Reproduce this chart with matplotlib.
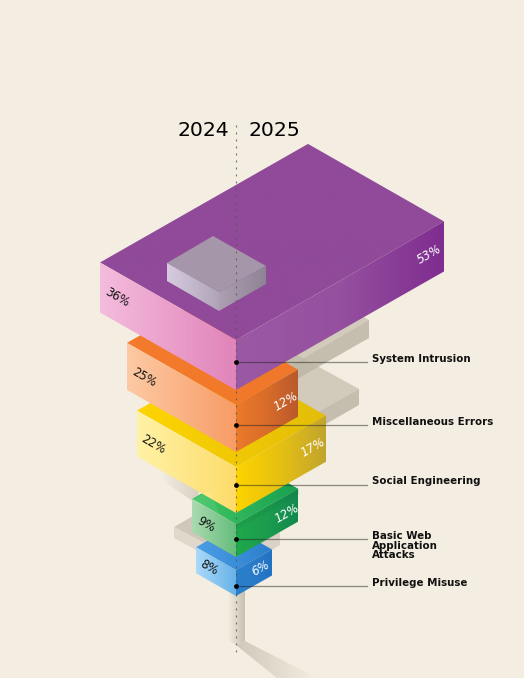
import numpy as np
import matplotlib
matplotlib.use('Agg')
import matplotlib.pyplot as plt
from matplotlib.colors import to_rgb
from matplotlib.patches import Polygon

# data
categories = ['System Intrusion', 'Miscellaneous Errors', 'Social Engineering',
              'Basic Web\nApplication\nAttacks', 'Privilege Misuse']
share_2024 = [36, 25, 22, 9, 8]
share_2025 = [53, 12, 17, 12, 6]
years = ['2024', '2025']

# value -> pixels along the iso axis (the original scale is not linear)
scale_val = [6, 8, 9, 12, 17, 22, 25, 36, 53]
scale_px = [36, 40, 44, 62, 90, 99, 109, 136, 208]

# where each block sits
axis_x = 236
slope = 0.57
front_y = [340, 405, 467, 524, 570]
block_h = [50, 47, 46, 33, 26]
leader_y = [362, 425, 485, 539, 586]
label_y = [359, 422, 481, 531, 583]

# top (left, right), left face (light, dark), right face (light, mid, dark)
colors = [
    ('#904a99', '#904a99', '#f4bcdd', '#e184ba', '#9b59a4', '#95509f', '#7f2d90'),
    ('#f47b2a', '#f0782a', '#fdcaa4', '#f89c66', '#ec7a2a', '#d96c2a', '#b9592c'),
    ('#fed500', '#e3bd08', '#fff2a6', '#fddc6c', '#fdd300', '#e6c012', '#c1a42e'),
    ('#42c765', '#17a04f', '#aadab0', '#66bd7c', '#1fa94c', '#1c9c4e', '#14894f'),
    ('#4c9fe6', '#2b7ecb', '#abdafa', '#67b2e8', '#2a80cb', '#2a7cc9', '#2272c3'),
]
left_pos = [(117, 297), (144, 377), (153, 445), (206, 525), (209, 568)]
right_pos = [(429, 254), (286, 401), (313, 447), (287, 513), (261, 568)]
bg = '#f4ede1'

fig = plt.figure(figsize=(5.24, 6.78), dpi=100, facecolor=bg)
ax = fig.add_axes([0, 0, 1, 1])
ax.set_xlim(0, 524)
ax.set_ylim(678, 0)
ax.axis('off')


def flat(pts, color, z, alpha=1.0):
    ax.add_patch(Polygon(pts, closed=True, fc=color, ec='none', alpha=alpha, zorder=z))


def shade(pts, stops, z):
    # horizontal gradient clipped to a polygon
    pts = np.array(pts, dtype=float)
    t = np.linspace(0, 1, 128)
    knots = np.linspace(0, 1, len(stops))
    rgba = np.ones((1, 128, 4))
    for i in range(3):
        rgba[0, :, i] = np.interp(t, knots, [to_rgb(c)[i] for c in stops])
    x0, x1 = pts[:, 0].min(), pts[:, 0].max()
    y0, y1 = pts[:, 1].min(), pts[:, 1].max()
    im = ax.imshow(rgba, extent=(x0, x1, y1, y0), aspect='auto', zorder=z, interpolation='bilinear')
    im.set_clip_path(Polygon(pts, closed=True, transform=ax.transData))


def block(x, top, wl, wr, h, cols, z):
    top_face = [(x, top), (x - wl, top - slope * wl),
                (x - wl + wr, top - slope * (wl + wr)), (x + wr, top - slope * wr)]
    left_face = [(x, top), (x - wl, top - slope * wl), (x - wl, top - slope * wl + h), (x, top + h)]
    right_face = [(x, top), (x + wr, top - slope * wr), (x + wr, top - slope * wr + h), (x, top + h)]
    shade(top_face, [cols[0], cols[1]], z)
    shade(left_face, [cols[2], cols[3]], z)
    shade(right_face, [cols[4], cols[5], cols[6]], z)


# grey ghost blocks behind the stack
ghost = '#bdb6a6'
flat([(369, 320), (358, 314), (250, 375), (262, 382)], ghost, 1, 0.62)
flat([(369, 320), (369, 338), (262, 399), (262, 382)], ghost, 1, 0.85)
flat([(270, 340), (359, 389), (298, 423), (210, 375)], ghost, 1, 0.62)
flat([(359, 389), (359, 405), (298, 440), (298, 423)], ghost, 1, 0.85)
shade([(160, 462), (200, 485), (197, 504), (166, 483), (160, 477)], [bg, '#d6cfc2'], 1)
flat([(174, 527), (200, 512), (280, 533), (236, 560)], '#cfc8ba', 1)
flat([(174, 527), (174, 538), (236, 572), (236, 560)], '#e0d9cb', 1)
flat([(236, 560), (236, 572), (280, 545), (280, 533)], '#dad3c5', 1)
shade([(228, 590), (245, 590), (245, 641), (236, 645), (228, 640)], [bg, '#c6c0b1'], 1)
shade([(236, 645), (245, 641), (317, 678), (277, 678)], ['#cfc9bb', bg], 1)

# blocks, bottom one first so the upper ones overlap it
wl = np.interp(share_2024, scale_val, scale_px)
wr = np.interp(share_2025, scale_val, scale_px)
for i in range(4, -1, -1):
    block(axis_x, front_y[i], wl[i], wr[i], block_h[i], colors[i], 10 - i)

# small grey block on the purple top
flat([(167, 263), (213, 236), (266, 266), (219, 292)], '#a597a9', 11)
shade([(167, 263), (219, 292), (219, 311), (167, 281)], ['#d6cbdf', '#b0a5b8'], 11)
shade([(219, 292), (266, 266), (266, 284), (219, 311)], ['#ab9fb1', '#8f8496'], 11)

# inner bands on the lower blocks
flat([(142, 351), (236, 404), (236, 420), (230, 418), (142, 369)], 'white', 6.5, 0.16)
flat([(236, 398), (290, 367), (298, 370), (236, 405)], 'white', 6.5, 0.10)
flat([(242, 464), (326, 417), (326, 425), (242, 473)], '#7a6a20', 7.5, 0.22)
flat([(137, 412), (155, 402), (155, 422)], 'white', 7.5, 0.18)
flat([(236, 524), (299, 488), (299, 494), (236, 530)], '#0d6b3a', 8.5, 0.12)
flat([(192, 501), (210, 490), (220, 515)], 'white', 8.5, 0.08)

# value labels
for i in range(5):
    ax.text(left_pos[i][0], left_pos[i][1], f'{share_2024[i]}%', rotation=-30, rotation_mode='anchor',
            ha='center', va='center', fontsize=8.5, color='#111111', zorder=20)
    ax.text(right_pos[i][0], right_pos[i][1], f'{share_2025[i]}%', rotation=30, rotation_mode='anchor',
            ha='center', va='center', fontsize=8.5, color='white', style='oblique', zorder=20)

# centre axis and year labels
ax.plot([axis_x, axis_x], [125, 652], color='#555555', lw=0.8, dashes=(1.7, 4.6), alpha=0.85, zorder=15)
ax.text(203, 130, years[0], ha='center', va='center', fontsize=14.7, color='black', zorder=20)
ax.text(274, 130, years[1], ha='center', va='center', fontsize=14.7, color='black', zorder=20)

# leaders and category names
for i in range(5):
    ax.plot([axis_x, 367], [leader_y[i], leader_y[i]], color='#222222', lw=0.9, alpha=0.5, zorder=16)
    ax.scatter([axis_x], [leader_y[i]], s=12, color='black', linewidths=0, zorder=17)
    ax.text(372, label_y[i], categories[i], ha='left', va='center' if i != 3 else 'top',
            fontsize=7.4, fontweight='bold', color='#111111', linespacing=0.95, zorder=20)

ax.set_xlim(0, 524)
ax.set_ylim(678, 0)
fig.savefig('out.png', dpi=100, facecolor=bg)
